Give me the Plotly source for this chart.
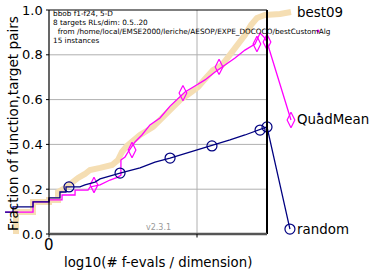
import plotly.graph_objects as go

# ---- data (log10 of #f-evals/dim, fraction of function-target pairs) ----
best09_x = [-0.223, -0.223, -0.108, -0.108, 0.0, 0.0, 0.061, 0.061, 0.108, 0.155, 0.196, 0.243,
            0.277, 0.345, 0.426, 0.466, 0.493, 0.527, 0.561, 0.615, 0.703, 0.75, 0.804, 0.851,
            0.885, 0.953, 1.007, 1.054, 1.108, 1.169, 1.223, 1.277, 1.324, 1.365, 1.405, 1.459,
            1.493, 1.561, 1.635]
best09_y = [0.0, 0.098, 0.098, 0.143, 0.143, 0.152, 0.152, 0.1875, 0.205, 0.232, 0.25, 0.268,
            0.286, 0.295, 0.308, 0.33, 0.366, 0.393, 0.415, 0.442, 0.478, 0.509, 0.545, 0.576,
            0.598, 0.629, 0.656, 0.692, 0.732, 0.754, 0.799, 0.844, 0.888, 0.933, 0.964, 0.978,
            0.978, 0.982, 0.991]

quad_x = [-0.297, -0.108, -0.108, 0.0, 0.0, 0.088, 0.088, 0.176, 0.176, 0.264, 0.277, 0.345,
          0.412, 0.466, 0.486, 0.486, 0.514, 0.534, 0.581, 0.628, 0.682, 0.75, 0.818, 0.872,
          0.919, 0.986, 1.054, 1.122, 1.189, 1.257, 1.324, 1.392, 1.426, 1.453, 1.473, 1.635]
quad_y = [0.098, 0.098, 0.143, 0.143, 0.152, 0.152, 0.174, 0.174, 0.196, 0.196, 0.21, 0.219,
          0.241, 0.254, 0.263, 0.33, 0.344, 0.366, 0.411, 0.442, 0.487, 0.518, 0.571, 0.603,
          0.634, 0.661, 0.688, 0.723, 0.754, 0.786, 0.821, 0.848, 0.897, 0.879, 0.857, 0.509]
quad_mx = [0.304, 0.561, 0.905, 1.149, 1.405, 1.473, 1.635]
quad_my = [0.219, 0.375, 0.629, 0.746, 0.848, 0.857, 0.509]

rand_x = [-0.297, -0.243, -0.243, -0.108, -0.108, 0.0, 0.0, 0.074, 0.074, 0.115, 0.115, 0.209,
          0.243, 0.311, 0.345, 0.412, 0.48, 0.615, 0.716, 0.818, 0.953, 1.101, 1.223, 1.324,
          1.412, 1.473, 1.628]
rand_y = [0.098, 0.098, 0.121, 0.121, 0.143, 0.143, 0.161, 0.161, 0.1875, 0.1875, 0.21, 0.21,
          0.219, 0.232, 0.246, 0.259, 0.272, 0.295, 0.321, 0.339, 0.366, 0.393, 0.42, 0.442,
          0.464, 0.478, 0.022]
rand_mx = [0.135, 0.48, 0.818, 1.101, 1.426, 1.473, 1.628]
rand_my = [0.21, 0.272, 0.339, 0.393, 0.464, 0.478, 0.022]

labels = ["best09", "QuadMean", "random"]
label_y = [0.991, 0.509, 0.022]
y_ticks = [0.0, 0.2, 0.4, 0.6, 0.8, 1.0]
y_ticktext = ["0.0", "0.2", "0.4", "0.6", "0.8", "1.0"]
x_ticks = [0, 1]
x_ticktext = ["0", ""]
x_max = 1.473
info_lines = ["bbob f1-f24, 5-D", "8 targets RLs/dim: 0.5..20",
              "\u00a0\u00a0from /home/local/EMSE2000/leriche/AESOP/EXPE_DOCOCO/bestCustomAlg",
              "15 instances"]

W, H = 369, 270
XR = [-49 / 148, (W - 49) / 148]
YR = [-36 / 224, 1 + 10 / 224]
FONT = "DejaVu Sans"

NAVY = "#000080"
MAG = "#ff00ff"
BEIGE = "#f5deb3"

fig = go.Figure()
fig.add_trace(go.Scatter(x=best09_x, y=best09_y, mode="lines",
                         line=dict(color=BEIGE, width=6), hoverinfo="skip"))
fig.add_trace(go.Scatter(x=quad_x, y=quad_y, mode="lines",
                         line=dict(color=MAG, width=1.3), hoverinfo="skip"))
fig.add_trace(go.Scatter(x=quad_mx, y=quad_my, mode="markers", cliponaxis=False,
                         marker=dict(symbol="diamond-tall-open", size=11, color=MAG,
                                     line=dict(width=1.2, color=MAG)), hoverinfo="skip"))
fig.add_trace(go.Scatter(x=rand_x, y=rand_y, mode="lines",
                         line=dict(color=NAVY, width=1.3), hoverinfo="skip"))
fig.add_trace(go.Scatter(x=rand_mx, y=rand_my, mode="markers", cliponaxis=False,
                         marker=dict(symbol="circle-open", size=10, color=NAVY,
                                     line=dict(width=1.2, color=NAVY)), hoverinfo="skip"))
# tiny stray dots near the labels
fig.add_trace(go.Scatter(x=[1.818], y=[0.906], mode="markers",
                         marker=dict(size=3, color=MAG), hoverinfo="skip"))
fig.add_trace(go.Scatter(x=[1.824], y=[0.536], mode="markers",
                         marker=dict(size=3, color=NAVY), hoverinfo="skip"))

shapes = []
# grid
for yv in y_ticks[1:-1]:
    shapes.append(dict(type="line", x0=0, x1=x_max, y0=yv, y1=yv, xref="x", yref="y",
                       line=dict(color="#b0b0b0", width=1), layer="below"))
shapes.append(dict(type="line", x0=1, x1=1, y0=0, y1=1, xref="x", yref="y",
                   line=dict(color="#b0b0b0", width=1), layer="below"))
# spines
shapes.append(dict(type="line", x0=0, x1=0, y0=0, y1=1, xref="x", yref="y",
                   line=dict(color="black", width=1.2), layer="above"))
shapes.append(dict(type="line", x0=0, x1=x_max, y0=1, y1=1, xref="x", yref="y",
                   line=dict(color="black", width=1.2), layer="above"))
shapes.append(dict(type="line", x0=x_max, x1=x_max, y0=0, y1=1, xref="x", yref="y",
                   line=dict(color="black", width=2), layer="above"))
shapes.append(dict(type="line", x0=0, x1=x_max, y0=0, y1=0, xref="x", yref="y",
                   line=dict(color="#555555", width=2.5), layer="above"))
# ticks
for yv in y_ticks:
    shapes.append(dict(type="line", x0=-3 / 148, x1=0, y0=yv, y1=yv, xref="x", yref="y",
                       line=dict(color="black", width=1), layer="above"))
for xv in x_ticks:
    shapes.append(dict(type="line", x0=xv, x1=xv, y0=-3.5 / 224, y1=0, xref="x", yref="y",
                       line=dict(color="black", width=1), layer="above"))

ann = []
for yv, t in zip(y_ticks, y_ticktext):
    ann.append(dict(x=-4 / 148, y=yv, xref="x", yref="y", text=t, showarrow=False,
                    xanchor="right", yanchor="middle",
                    font=dict(family=FONT, size=13, color="black")))
for xv, t in zip(x_ticks, x_ticktext):
    if t:
        ann.append(dict(x=xv, y=-11 / 224, xref="x", yref="y", text=t, showarrow=False,
                        xanchor="center", yanchor="middle",
                        font=dict(family=FONT, size=15, color="black")))
# axis titles
ann.append(dict(x=(158 - 49) / 148, y=(234 - 262) / 224, xref="x", yref="y",
                text="log10(# f-evals / dimension)", showarrow=False,
                xanchor="center", yanchor="middle",
                font=dict(family=FONT, size=13.3, color="black")))
ann.append(dict(x=(13 - 49) / 148, y=(234 - 124) / 224, xref="x", yref="y",
                text="Fraction of function,target pairs", showarrow=False, textangle=-90,
                xanchor="center", yanchor="middle",
                font=dict(family=FONT, size=13.6, color="black")))
# info text
for i, t in enumerate(info_lines):
    ann.append(dict(x=(51 - 49) / 148, y=(234 - (13 + 9 * i)) / 224, xref="x", yref="y",
                    text=t, showarrow=False, xanchor="left", yanchor="middle",
                    font=dict(family=FONT, size=7.3, color="black")))
ann.append(dict(x=(158 - 49) / 148, y=(234 - 227) / 224, xref="x", yref="y",
                text="v2.3.1", showarrow=False, xanchor="center", yanchor="middle",
                font=dict(family=FONT, size=8, color="#999999")))
# curve labels
for t, yv in zip(labels, label_y):
    ann.append(dict(x=(295 - 49) / 148, y=yv, xref="x", yref="y", text=t, showarrow=False,
                    xanchor="left", yanchor="middle",
                    font=dict(family=FONT, size=13.4, color="black")))

fig.update_layout(
    width=W, height=H, margin=dict(l=0, r=0, t=0, b=0),
    paper_bgcolor="white", plot_bgcolor="white", showlegend=False,
    xaxis=dict(range=XR, visible=False, fixedrange=True),
    yaxis=dict(range=YR, visible=False, fixedrange=True),
    shapes=shapes, annotations=ann,
)
fig.write_html("out.html", config={"displayModeBar": False},
               post_script="document.body.style.margin='0';document.body.style.overflow='hidden';")
